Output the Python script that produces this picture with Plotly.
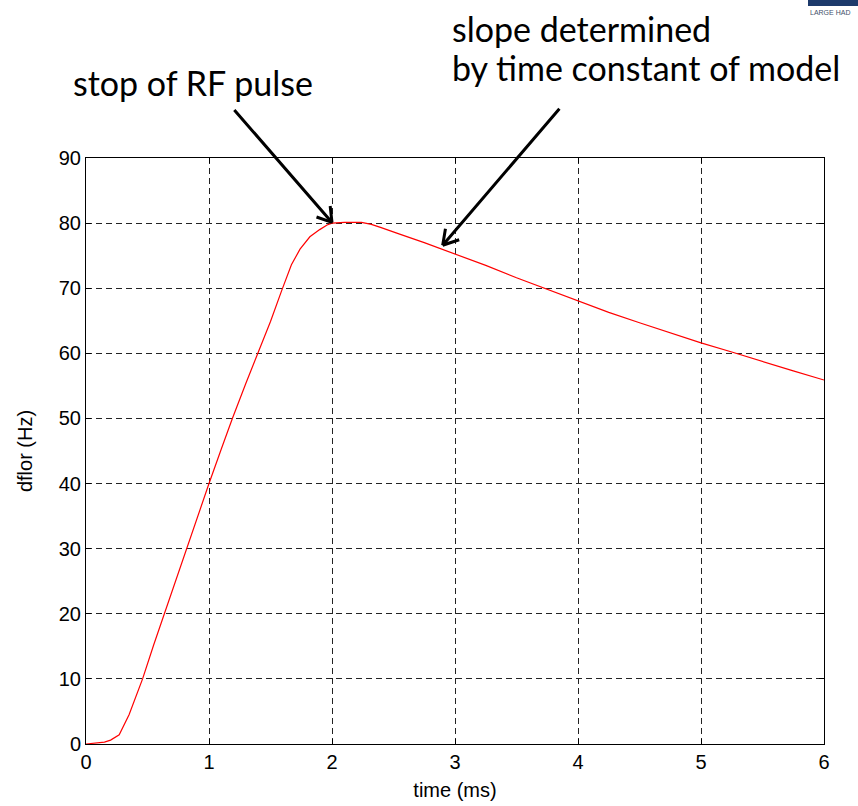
import plotly.graph_objects as go

# data
time_ms = [0.0, 0.08, 0.15, 0.2, 0.27, 0.35, 0.4, 0.46, 0.55, 0.637, 0.72, 0.813, 0.9, 1.0, 1.1, 1.19,
           1.3, 1.4, 1.5, 1.59, 1.67, 1.74, 1.82, 1.9, 1.96, 2.0, 2.1, 2.24, 2.32, 2.4, 2.5, 2.55, 2.75,
           3.0, 3.25, 3.5, 3.75, 4.0, 4.25, 4.5, 4.75, 5.0, 5.25, 5.5, 5.75, 6.0]
dflor_hz = [0.0, 0.1, 0.3, 0.6, 1.4, 4.5, 7.0, 10.0, 15.2, 20.0, 24.8, 30.0, 34.8, 40.0, 45.3, 50.0,
            55.4, 60.0, 64.9, 69.6, 73.6, 76.0, 77.9, 79.0, 79.7, 80.0, 80.1, 80.1, 79.8, 79.3, 78.7, 78.3, 77.0,
            75.3, 73.5, 71.6, 69.8, 68.0, 66.3, 64.7, 63.1, 61.6, 60.2, 58.7, 57.3, 55.9]

x_ticks = [0, 1, 2, 3, 4, 5, 6]
y_ticks = [0, 10, 20, 30, 40, 50, 60, 70, 80, 90]

fig = go.Figure()
fig.add_trace(go.Scatter(x=time_ms, y=dflor_hz, mode="lines",
                         line=dict(color="#ff0000", width=1.2), showlegend=False))

tick_font = dict(family="Liberation Sans, Arial", size=20, color="black")
axis_common = dict(showline=True, linecolor="black", linewidth=1, mirror="ticks",
                   ticks="inside", ticklen=5, tickcolor="black",
                   showgrid=True, gridcolor="#222222", gridwidth=1, griddash="6px,4px",
                   zeroline=False, tickfont=tick_font, automargin=False)

fig.update_xaxes(range=[0, 6], tickvals=x_ticks, **axis_common,
                 title=dict(text="time (ms)", font=tick_font, standoff=10))
fig.update_yaxes(range=[0, 90], tickvals=y_ticks, **axis_common,
                 title=dict(text="dflor (Hz)", font=tick_font, standoff=20))

W, H = 858, 806
L, R, T, B = 86, 34, 158, 62
pw, ph = W - L - R, H - T - B


def px(xp):
    return (xp - L) / pw


def py(yp):
    return (H - B - yp) / ph


text_font = dict(family="Lato, Open Sans, sans-serif", size=34, color="black")
annotations = [
    dict(text="stop of RF pulse", xref="paper", yref="paper", x=px(71), y=py(83),
         xanchor="left", yanchor="middle", showarrow=False, font=text_font),
    dict(text="slope determined", xref="paper", yref="paper", x=px(450), y=py(28),
         xanchor="left", yanchor="middle", showarrow=False, font=text_font),
    dict(text="by time constant of model", xref="paper", yref="paper", x=px(450), y=py(68),
         xanchor="left", yanchor="middle", showarrow=False, font=text_font),
]

# arrows: (tip in data coords, shaft offset, wing offsets) in pixels
arrows = [
    ((2.0, 80.1), (-99, -114), [(-17, -6), (-2, -18)]),
    ((2.9, 76.6), (118, -138), [(18, -6), (3, -18)]),
]
for (tx, ty), shaft, wings in arrows:
    for ax, ay in [shaft] + wings:
        annotations.append(dict(x=tx, y=ty, xref="x", yref="y", ax=ax, ay=ay, text="",
                                showarrow=True, arrowhead=0, arrowwidth=3, arrowcolor="black",
                                standoff=0, startstandoff=0))

# partial logo in the top-right corner
annotations.append(dict(text="LARGE HAD", xref="paper", yref="paper", x=px(808), y=py(12),
                        xanchor="left", yanchor="middle", showarrow=False,
                        font=dict(family="Liberation Sans", size=7, color="#44506a")))

fig.update_layout(
    width=W, height=H,
    margin=dict(l=L, r=R, t=T, b=B),
    paper_bgcolor="white", plot_bgcolor="white",
    annotations=annotations,
    shapes=[dict(type="rect", xref="paper", yref="paper", x0=px(808), x1=px(860), y0=py(-2), y1=py(6),
                 fillcolor="#1d3a6b", line=dict(width=0), layer="above")],
)

fig.write_html("out.html")
